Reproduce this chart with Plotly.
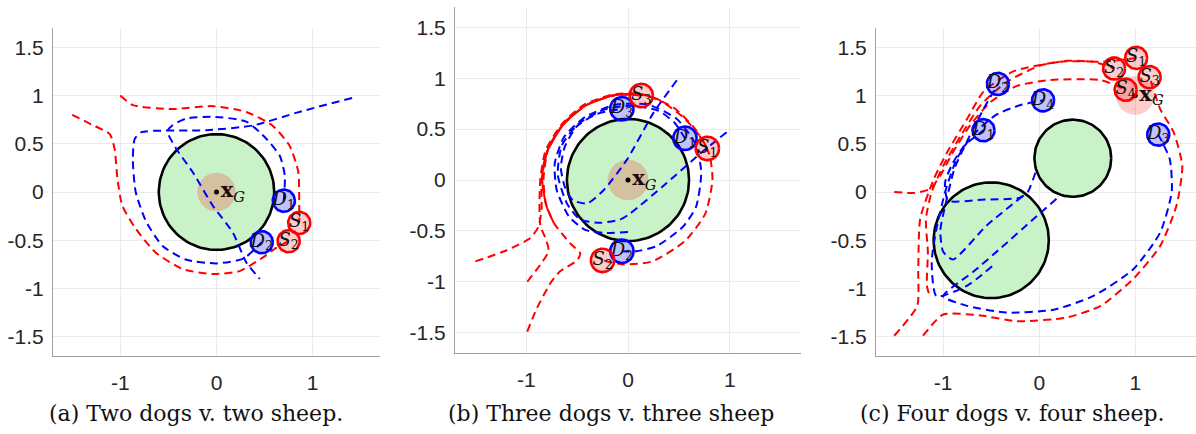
import numpy as np
import plotly.graph_objects as go

# ---------------- panel (a): two dogs v. two sheep ----------------
A_OBST_X, A_OBST_Y, A_OBST_R = [0.0], [0.0], [0.6]
A_GOAL_X, A_GOAL_Y, A_GOAL_R = 0.0, 0.0, 0.2
A_DOG_X, A_DOG_Y = [0.70, 0.47], [-0.09, -0.52]
A_SHEEP_X, A_SHEEP_Y = [0.86, 0.75], [-0.32, -0.51]
A_DOG_PATHS = [
    ([0.70, 0.71, 0.66, 0.52, 0.31, -0.04, -0.32, -0.46, -0.51, -0.42, -0.25, -0.04, 0.17, 0.31, 0.45],
     [-0.09, 0.17, 0.37, 0.55, 0.73, 0.78, 0.76, 0.69, 0.63, 0.45, 0.21, -0.14, -0.42, -0.73, -0.90]),
    ([1.41, 0.86, 0.38, -0.11, -0.78, -0.85, -0.87, -0.84, -0.73, -0.56, -0.32, 0.0, 0.28, 0.47],
     [0.975, 0.83, 0.69, 0.64, 0.62, 0.55, 0.34, 0.0, -0.31, -0.56, -0.70, -0.74, -0.69, -0.52]),
]
A_SHEEP_PATHS = [
    ([-1.0, -0.87, -0.46, -0.04, 0.31, 0.58, 0.76, 0.85, 0.86, 0.86],
     [1.0, 0.90, 0.86, 0.89, 0.83, 0.69, 0.48, 0.21, -0.10, -0.32]),
    ([-1.50, -1.30, -1.11, -1.06, -1.03, -0.98, -0.84, -0.63, -0.35, -0.04, 0.24, 0.48, 0.62, 0.75],
     [0.80, 0.70, 0.60, 0.45, 0.14, -0.14, -0.38, -0.63, -0.80, -0.85, -0.82, -0.68, -0.58, -0.51]),
]

# ---------------- panel (b): three dogs v. three sheep ----------------
B_OBST_X, B_OBST_Y, B_OBST_R = [0.0], [0.0], [0.6]
B_GOAL_X, B_GOAL_Y, B_GOAL_R = 0.0, 0.0, 0.2
B_DOG_X, B_DOG_Y = [0.56, -0.06, -0.06], [0.41, -0.70, 0.70]
B_SHEEP_X, B_SHEEP_Y = [0.78, -0.25, 0.13], [0.31, -0.79, 0.83]
B_DOG_PATHS = [
    ([0.97, 0.71, 0.38, 0.02, -0.08, -0.27, -0.47, -0.60, -0.69, -0.65, -0.49, -0.24, 0.02, 0.30, 0.46, 0.56],
     [0.47, 0.26, -0.03, -0.33, -0.39, -0.42, -0.39, -0.23, 0.05, 0.34, 0.55, 0.69, 0.73, 0.68, 0.56, 0.41]),
    ([0.0, -0.24, -0.42, -0.58, -0.70, -0.72, -0.63, -0.42, -0.12, 0.20, 0.48, 0.66, 0.72, 0.67, 0.54, 0.28, 0.08, -0.06],
     [-0.51, -0.52, -0.49, -0.36, -0.10, 0.16, 0.42, 0.62, 0.74, 0.74, 0.60, 0.36, 0.08, -0.26, -0.46, -0.65, -0.70, -0.70]),
    ([0.48, 0.25, -0.01, -0.24, -0.40, -0.54, -0.62, -0.66, -0.62, -0.50, -0.30, -0.06],
     [0.98, 0.66, 0.20, -0.10, -0.23, -0.20, -0.07, 0.12, 0.33, 0.53, 0.65, 0.70]),
]
B_SHEEP_PATHS = [
    ([-0.99, -0.86, -0.78, -0.80, -0.86, -0.87, -0.86, -0.81, -0.65, -0.43, -0.15, 0.10, 0.30, 0.54, 0.70, 0.78],
     [-1.0, -0.83, -0.70, -0.60, -0.45, -0.22, 0.02, 0.29, 0.55, 0.74, 0.84, 0.85, 0.79, 0.62, 0.44, 0.31]),
    ([-0.99, -0.90, -0.76, -0.67, -0.50, -0.47, -0.57, -0.73, -0.81, -0.83, -0.78, -0.62, -0.38, -0.10, 0.18,
      0.45, 0.66, 0.80, 0.83, 0.76, 0.56, 0.24, -0.05, -0.25],
     [-1.49, -1.27, -1.01, -0.90, -0.79, -0.72, -0.62, -0.42, -0.22, 0.02, 0.32, 0.57, 0.75, 0.84, 0.83,
      0.71, 0.50, 0.25, 0.0, -0.33, -0.60, -0.80, -0.83, -0.79]),
    ([-1.50, -1.19, -0.96, -0.88, -0.85, -0.85, -0.79, -0.64, -0.42, -0.15, 0.0, 0.13],
     [-0.80, -0.69, -0.57, -0.46, -0.29, 0.0, 0.29, 0.54, 0.73, 0.83, 0.84, 0.83]),
]
# stretch of the herd's route that the three sheep share (drawn solid)
B_SHARED_X = [-0.73, -0.80, -0.84, -0.84, -0.79, -0.64, -0.42, -0.15, 0.0, 0.13]
B_SHARED_Y = [-0.42, -0.26, -0.05, 0.10, 0.29, 0.54, 0.73, 0.83, 0.84, 0.83]

# ---------------- panel (c): four dogs v. four sheep ----------------
C_OBST_X, C_OBST_Y, C_OBST_R = [-0.5, 0.35], [-0.5, 0.35], [0.6, 0.4]
C_GOAL_X, C_GOAL_Y, C_GOAL_R = 1.0, 1.0, 0.2
C_DOG_X, C_DOG_Y = [-0.58, -0.43, 1.24, 0.04], [0.64, 1.12, 0.595, 0.95]
C_SHEEP_X, C_SHEEP_Y = [1.01, 0.78, 1.15, 0.90], [1.39, 1.28, 1.19, 1.06]
C_DOG_PATHS = [
    ([-0.04, -0.12, -0.20, -0.60, -0.95, -0.98, -0.90, -0.78, -0.58],
     [0.20, 0.0, -0.06, -0.08, -0.09, 0.10, 0.30, 0.48, 0.64]),
    ([-0.17, -0.55, -0.90, -1.0, -1.03, -0.97, -0.88, -0.74, -0.58, -0.43],
     [-0.04, -0.35, -0.70, -0.62, -0.40, -0.10, 0.25, 0.55, 0.86, 1.12]),
    ([0.18, -0.06, -0.41, -0.69, -1.0, -0.75, -0.34, 0.15, 0.56, 0.98, 1.26, 1.38, 1.36, 1.24],
     [-0.07, -0.28, -0.59, -0.83, -1.08, -1.18, -1.25, -1.22, -1.08, -0.80, -0.42, 0.0, 0.34, 0.595]),
    ([-0.49, -0.75, -1.07, -1.12, -1.07, -0.98, -0.86, -0.70, -0.45, -0.20, 0.04],
     [-0.77, -0.97, -1.08, -0.72, -0.38, 0.0, 0.34, 0.58, 0.80, 0.90, 0.95]),
]
C_SHEEP_PATHS = [
    ([-1.15, -1.17, -1.16, -1.18, -1.12, -1.0, -0.82, -0.61, -0.34, 0.01, 0.29, 0.67, 1.01],
     [-1.05, -0.97, -0.62, -0.28, 0.0, 0.27, 0.58, 0.90, 1.14, 1.31, 1.36, 1.35, 1.39]),
    ([-1.51, -1.27, -1.26, -1.24, -1.10, -0.96, -0.75, -0.58, -0.27, 0.22, 0.56, 0.78],
     [-1.49, -1.18, -0.83, -0.28, 0.13, 0.41, 0.76, 1.04, 1.25, 1.35, 1.35, 1.28]),
    ([-1.21, -1.0, -0.61, -0.23, 0.29, 0.64, 0.98, 1.26, 1.43, 1.49, 1.40, 1.26, 1.15],
     [-1.49, -1.27, -1.28, -1.34, -1.30, -1.18, -0.90, -0.56, -0.14, 0.27, 0.62, 0.86, 1.19]),
    ([-1.51, -1.31, -1.14, -1.03, -0.90, -0.72, -0.51, -0.23, 0.11, 0.64, 0.90],
     [0.0, -0.01, 0.03, 0.17, 0.41, 0.69, 0.93, 1.10, 1.16, 1.16, 1.06]),
]

CAPTIONS = ["(a) Two dogs v. two sheep.", "(b) Three dogs v. three sheep", "(c) Four dogs v. four sheep."]
Y_TICKS = [-1.5, -1, -0.5, 0, 0.5, 1, 1.5]
X_TICKS = [-1, 0, 1]

AGENT_R = 0.115
W, H = 1196, 434

PANELS = [
    dict(obst=(A_OBST_X, A_OBST_Y, A_OBST_R), goal=(A_GOAL_X, A_GOAL_Y, A_GOAL_R),
         dogs=(A_DOG_X, A_DOG_Y), sheep=(A_SHEEP_X, A_SHEEP_Y),
         dog_paths=A_DOG_PATHS, sheep_paths=A_SHEEP_PATHS, shared=None),
    dict(obst=(B_OBST_X, B_OBST_Y, B_OBST_R), goal=(B_GOAL_X, B_GOAL_Y, B_GOAL_R),
         dogs=(B_DOG_X, B_DOG_Y), sheep=(B_SHEEP_X, B_SHEEP_Y),
         dog_paths=B_DOG_PATHS, sheep_paths=B_SHEEP_PATHS, shared=(B_SHARED_X, B_SHARED_Y)),
    dict(obst=(C_OBST_X, C_OBST_Y, C_OBST_R), goal=(C_GOAL_X, C_GOAL_Y, C_GOAL_R),
         dogs=(C_DOG_X, C_DOG_Y), sheep=(C_SHEEP_X, C_SHEEP_Y),
         dog_paths=C_DOG_PATHS, sheep_paths=C_SHEEP_PATHS, shared=None),
]

# pixel boxes of the three plot areas: (left, right, top, bottom) and x range
BOXES = [
    (53, 380, 28, 356, [-1.7, 1.7]),
    (455, 801, 7, 353, [-1.7, 1.7]),
    (876, 1196, 28, 356, [-1.7, 1.633]),
]

MATH_FONT = "DejaVu Serif"
TICK_FONT = dict(family="Liberation Sans", size=21, color="#262626")
DASH = "8px,5px"


def circle(cx, cy, r, n=120):
    t = np.linspace(0, 2 * np.pi, n)
    return cx + r * np.cos(t), cy + r * np.sin(t)


fig = go.Figure()

for i, p in enumerate(PANELS):
    sfx = "" if i == 0 else str(i + 1)
    xa, ya = "x" + sfx, "y" + sfx
    common = dict(xaxis=xa, yaxis=ya, showlegend=False, hoverinfo="skip")

    # obstacles
    for cx, cy, r in zip(*p["obst"]):
        xs, ys = circle(cx, cy, r)
        fig.add_trace(go.Scatter(x=xs, y=ys, mode="lines", fill="toself",
                                 fillcolor="#c9f2c9", line=dict(color="black", width=2.6), **common))
    # goal region
    gx, gy, gr = p["goal"]
    xs, ys = circle(gx, gy, gr)
    fig.add_trace(go.Scatter(x=xs, y=ys, mode="lines", fill="toself",
                             fillcolor="rgba(255,0,0,0.2)", line=dict(width=0), **common))

    # trajectories
    if p["shared"] is not None:
        fig.add_trace(go.Scatter(x=p["shared"][0], y=p["shared"][1], mode="lines",
                                 line=dict(color="#ff0000", width=2, shape="spline", smoothing=0.6),
                                 **common))
    for px_, py_ in p["sheep_paths"]:
        fig.add_trace(go.Scatter(x=px_, y=py_, mode="lines",
                                 line=dict(color="#ff0000", width=2, dash=DASH, shape="spline", smoothing=0.6),
                                 **common))
    for px_, py_ in p["dog_paths"]:
        fig.add_trace(go.Scatter(x=px_, y=py_, mode="lines",
                                 line=dict(color="#0000ff", width=2, dash=DASH, shape="spline", smoothing=0.6),
                                 **common))

    # goal marker and label
    fig.add_trace(go.Scatter(x=[gx], y=[gy], mode="markers+text",
                             marker=dict(color="black", size=5),
                             text=["<b>x</b><sub><i>G</i></sub>"], textposition="middle right",
                             textfont=dict(family=MATH_FONT, size=21, color="#1a0a0a"), **common))

    # agents
    for kind, (ax_, ay_) in (("D", p["dogs"]), ("S", p["sheep"])):
        edge = "#0000ff" if kind == "D" else "#ff0000"
        fill = "rgba(0,0,255,0.24)" if kind == "D" else "rgba(255,0,0,0.2)"
        for cx, cy in zip(ax_, ay_):
            xs, ys = circle(cx, cy, AGENT_R, 60)
            fig.add_trace(go.Scatter(x=xs, y=ys, mode="lines", fill="toself", fillcolor=fill,
                                     line=dict(color=edge, width=2.6), **common))
        labels = [f"<i>{kind}</i><sub>{k + 1}</sub>" for k in range(len(ax_))]
        fig.add_trace(go.Scatter(x=ax_, y=ay_, mode="text", text=labels, textposition="middle center",
                                 textfont=dict(family=MATH_FONT, size=18, color="#111111"), **common))

    left, right, top, bottom, xr = BOXES[i]
    axis_style = dict(showgrid=True, gridcolor="#ebebeb", gridwidth=1, zeroline=False,
                      showline=True, linecolor="#a0a0a0", linewidth=1, mirror=False, ticks="",
                      tickfont=TICK_FONT)
    fig.update_layout(**{
        "xaxis" + sfx: dict(domain=[left / W, right / W], range=xr, anchor=ya,
                            tickmode="array", tickvals=X_TICKS, ticktext=[str(v) for v in X_TICKS],
                            ticklabelstandoff=8, **axis_style),
        "yaxis" + sfx: dict(domain=[1 - bottom / H, 1 - top / H], range=[-1.7, 1.7], anchor=xa,
                            tickmode="array", tickvals=Y_TICKS, ticktext=[f"{v:g}" for v in Y_TICKS],
                            ticklabelstandoff=4, **axis_style),
    })

CAPTION_X = [196, 611, 1012]
for cx, cap in zip(CAPTION_X, CAPTIONS):
    fig.add_annotation(x=cx / W, y=1 - 413 / H, xref="paper", yref="paper", text=cap,
                       showarrow=False, xanchor="center", yanchor="middle",
                       font=dict(family=MATH_FONT, size=22, color="#111111"))

fig.update_layout(width=W, height=H, autosize=False, margin=dict(l=0, r=0, t=0, b=0),
                  paper_bgcolor="white", plot_bgcolor="white")

fig.write_html("out.html")
